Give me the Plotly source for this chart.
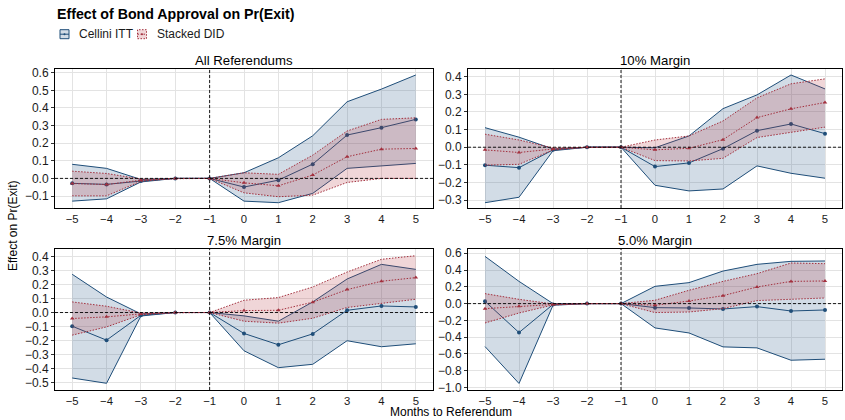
import plotly.graph_objects as go

months = [-5, -4, -3, -2, -1, 0, 1, 2, 3, 4, 5]
panel_titles = ["All Referendums", "10% Margin", "7.5% Margin", "5.0% Margin"]
series_names = ["Cellini ITT", "Stacked DID"]

# Cellini ITT: estimate, upper, lower
itt_est = [
    [-0.028, -0.034, -0.015, 0.0, 0.0, -0.049, -0.010, 0.081, 0.246, 0.288, 0.335],
    [-0.102, -0.116, -0.015, 0.0, 0.0, -0.110, -0.089, -0.008, 0.094, 0.132, 0.077],
    [-0.098, -0.198, -0.020, 0.0, 0.0, -0.150, -0.231, -0.153, 0.016, 0.047, 0.040],
    [0.027, -0.345, -0.010, 0.0, 0.0, -0.048, -0.052, -0.064, -0.036, -0.088, -0.076],
]
itt_hi = [
    [0.080, 0.057, -0.006, 0.0, 0.0, 0.032, 0.117, 0.242, 0.435, 0.507, 0.587],
    [0.111, 0.057, -0.010, 0.0, 0.0, -0.003, 0.064, 0.219, 0.297, 0.410, 0.331],
    [0.274, 0.111, -0.010, 0.0, 0.0, -0.024, -0.062, 0.076, 0.240, 0.345, 0.309],
    [0.563, 0.265, 0.000, 0.0, 0.0, 0.206, 0.250, 0.388, 0.468, 0.504, 0.508],
]
itt_lo = [
    [-0.129, -0.116, -0.020, 0.0, 0.0, -0.129, -0.138, -0.085, 0.057, 0.070, 0.085],
    [-0.315, -0.284, -0.020, 0.0, 0.0, -0.216, -0.248, -0.237, -0.106, -0.148, -0.176],
    [-0.469, -0.507, -0.025, 0.0, 0.0, -0.274, -0.395, -0.371, -0.202, -0.245, -0.224],
    [-0.512, -0.952, -0.020, 0.0, 0.0, -0.290, -0.350, -0.516, -0.528, -0.675, -0.663],
]
# Stacked DID: estimate, upper, lower
did_est = [
    [-0.029, -0.035, -0.010, 0.0, 0.0, -0.025, -0.042, 0.019, 0.123, 0.166, 0.170],
    [-0.015, -0.030, -0.010, 0.0, 0.0, -0.015, -0.006, 0.043, 0.168, 0.218, 0.254],
    [-0.043, -0.031, -0.010, 0.0, 0.0, 0.014, 0.016, 0.074, 0.164, 0.224, 0.250],
    [-0.060, -0.032, -0.010, 0.0, 0.0, -0.020, 0.031, 0.095, 0.198, 0.265, 0.270],
]
did_hi = [
    [0.041, 0.028, -0.004, 0.0, 0.0, 0.032, 0.023, 0.132, 0.269, 0.335, 0.344],
    [0.074, 0.041, -0.004, 0.0, 0.0, 0.041, 0.064, 0.149, 0.280, 0.360, 0.388],
    [0.076, 0.045, -0.004, 0.0, 0.0, 0.088, 0.107, 0.183, 0.290, 0.381, 0.407],
    [0.119, 0.051, -0.004, 0.0, 0.0, 0.040, 0.159, 0.265, 0.357, 0.484, 0.476],
]
did_lo = [
    [-0.099, -0.099, -0.016, 0.0, 0.0, -0.082, -0.104, -0.095, -0.023, 0.000, 0.000],
    [-0.102, -0.097, -0.016, 0.0, 0.0, -0.076, -0.078, -0.063, 0.055, 0.083, 0.114],
    [-0.162, -0.103, -0.016, 0.0, 0.0, -0.062, -0.076, -0.041, 0.036, 0.064, 0.095],
    [-0.231, -0.112, -0.016, 0.0, 0.0, -0.107, -0.100, -0.060, 0.036, 0.055, 0.067],
]

y_ranges = [[-0.168, 0.621], [-0.345, 0.444], [-0.555, 0.455], [-1.03, 0.651]]
y_dticks = [0.1, 0.1, 0.1, 0.2]
ref_month = -1

W, H = 845, 420
x_doms = [[55 / W, 433 / W], [468 / W, 842 / W]]
y_doms = [[1 - 208 / H, 1 - 69 / H], [1 - 390 / H, 1 - 249 / H]]

BLUE = "#1F4E79"
BLUE_FILL = "rgba(52,94,140,0.22)"
RED = "#A3303E"
RED_FILL = "rgba(178,52,62,0.20)"
FONT = "Liberation Sans, Arial, sans-serif"
TXT = "#1a1a1a"
DOT = "1.5px,1.5px"

fig = go.Figure()
shapes = []
annotations = []

for p in range(4):
    r, c = divmod(p, 2)
    suf = "" if p == 0 else str(p + 1)
    xa, ya = "x" + suf, "y" + suf
    groups = [
        (series_names[0], itt_est[p], itt_hi[p], itt_lo[p], BLUE, BLUE_FILL, "solid", "circle"),
        (series_names[1], did_est[p], did_hi[p], did_lo[p], RED, RED_FILL, DOT, "triangle-up"),
    ]
    for name, est, hi, lo, col, fillc, dash, sym in groups:
        fig.add_trace(go.Scatter(x=months, y=lo, mode="lines", xaxis=xa, yaxis=ya,
                                 line=dict(color=col, width=1, dash=dash),
                                 legendgroup=name, showlegend=False, hoverinfo="skip"))
        fig.add_trace(go.Scatter(x=months, y=hi, mode="lines", xaxis=xa, yaxis=ya,
                                 fill="tonexty", fillcolor=fillc,
                                 line=dict(color=col, width=1, dash=dash),
                                 name=name, legendgroup=name, showlegend=False, hoverinfo="skip"))
        fig.add_trace(go.Scatter(x=months, y=est, mode="lines+markers", xaxis=xa, yaxis=ya,
                                 line=dict(color=col, width=1, dash=dash),
                                 marker=dict(color=col, size=4, symbol=sym),
                                 name=name, legendgroup=name, showlegend=False))
    axis_common = dict(showline=True, mirror=True, linecolor="black", linewidth=1,
                       showgrid=True, gridcolor="#e3e3e3", gridwidth=1, zeroline=False,
                       automargin=False, tickwidth=1, tickcolor="#333333")
    fig.update_layout(**{
        "xaxis" + suf: dict(domain=x_doms[c], range=[-5.5, 5.5], tickmode="array",
                            tickvals=months, anchor=ya, ticks="",
                            tickfont=dict(family=FONT, size=11.3, color=TXT), **axis_common),
        "yaxis" + suf: dict(domain=y_doms[r], range=y_ranges[p], dtick=y_dticks[p],
                            tick0=0, tickformat=".1f", anchor=xa, ticks="outside", ticklen=3,
                            tickfont=dict(family=FONT, size=12, color=TXT), **axis_common),
    })
    shapes.append(dict(type="line", xref=xa, yref=ya + " domain", x0=ref_month, x1=ref_month,
                       y0=0, y1=1, line=dict(color="black", width=0.9, dash="3px,2px")))
    shapes.append(dict(type="line", xref=xa + " domain", yref=ya, x0=0, x1=1, y0=0, y1=0,
                       line=dict(color="black", width=0.9, dash="3px,2px")))
    annotations.append(dict(text=panel_titles[p], xref="paper", yref="paper",
                            x=(x_doms[c][0] + x_doms[c][1]) / 2, y=y_doms[r][1],
                            xanchor="center", yanchor="bottom", yshift=-1, showarrow=False,
                            font=dict(family=FONT, size=13.2, color="black")))

# custom compact legend (key boxes like the reference)
leg_keys = [
    (series_names[0], BLUE, BLUE_FILL, "solid", 60, 77),
    (series_names[1], RED, RED_FILL, DOT, 137.5, 154.5),
]
for name, col, fillc, dash, kx, tx in leg_keys:
    y0p, y1p = 1 - 38.7 / H, 1 - 29.7 / H
    shapes.append(dict(type="rect", xref="paper", yref="paper", x0=kx / W, x1=(kx + 9) / W,
                       y0=y0p, y1=y1p, fillcolor=fillc,
                       line=dict(color=col, width=1, dash=dash)))
    shapes.append(dict(type="line", xref="paper", yref="paper", x0=kx / W, x1=(kx + 9) / W,
                       y0=(y0p + y1p) / 2, y1=(y0p + y1p) / 2,
                       line=dict(color=col, width=1, dash=dash)))
    shapes.append(dict(type="circle", xref="paper", yref="paper",
                       x0=(kx + 3.5) / W, x1=(kx + 5.5) / W,
                       y0=(y0p + y1p) / 2 - 1 / H, y1=(y0p + y1p) / 2 + 1 / H,
                       fillcolor=col, line=dict(color=col, width=0)))
    annotations.append(dict(text=name, xref="paper", yref="paper", x=tx / W, y=1 - 34 / H,
                            xanchor="left", yanchor="middle", showarrow=False,
                            font=dict(family=FONT, size=12, color=TXT)))

annotations.append(dict(text="Months to Referendum", xref="paper", yref="paper",
                        x=451 / W, y=1 - 420 / H, xanchor="center", yanchor="bottom",
                        yshift=-1, showarrow=False,
                        font=dict(family=FONT, size=12, color="black")))
annotations.append(dict(text="Effect on Pr(Exit)", xref="paper", yref="paper",
                        x=13 / W, y=1 - 226 / H, xanchor="center", yanchor="middle",
                        textangle=-90, showarrow=False,
                        font=dict(family=FONT, size=12, color="black")))
annotations.append(dict(text="<b>Effect of Bond Approval on Pr(Exit)</b>", xref="paper",
                        yref="paper", x=55 / W, y=1 - 14 / H, xanchor="left", yanchor="middle",
                        showarrow=False, font=dict(family=FONT, size=14.2, color="black")))

fig.update_layout(
    width=W, height=H,
    margin=dict(l=0, r=0, t=0, b=0, autoexpand=False),
    paper_bgcolor="white", plot_bgcolor="white",
    shapes=shapes, annotations=annotations,
    showlegend=False,
    font=dict(family=FONT),
)

fig.write_html("out.html", config={"displayModeBar": False},
               post_script="document.body.style.margin='0';document.body.style.overflow='hidden';")
